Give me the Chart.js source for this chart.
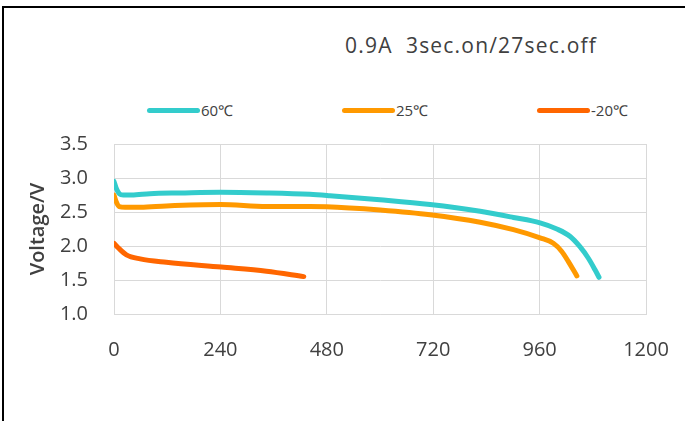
<!DOCTYPE html>
<html>
<head>
<meta charset="utf-8">
<script src="https://cdn.jsdelivr.net/npm/chart.js@4/dist/chart.umd.min.js"></script>
<style>
  body { margin: 0; background: #fff; overflow: hidden; }
  .wrap { position: relative; width: 685px; height: 421px; }
  .frame { position: absolute; left: 2px; top: 6px; width: 720px; height: 440px; border: 2px solid #000; }
  .chart-title { position: absolute; left: 345px; top: 31px; font: 21px "Open Sans", sans-serif; letter-spacing: 1.2px; color: #404040; white-space: nowrap; }
  .legend-item { position: absolute; top: 100px; font: 15px "Open Sans", sans-serif; color: #404040; white-space: nowrap; }
  .legend-item span { display: inline-block; width: 53px; height: 5px; border-radius: 3px; vertical-align: middle; margin-right: 1px; position: relative; top: -1px; }
  canvas { position: absolute; left: 0; top: 0; }
</style>
</head>
<body>
<div class="wrap">
  <div class="frame"></div>
  <div class="chart-title">0.9A&nbsp; 3sec.on/27sec.off</div>
  <div class="legend-item" style="left:147px"><span style="background:#33CCCC"></span>60℃</div>
  <div class="legend-item" style="left:342px"><span style="background:#FF9900"></span>25℃</div>
  <div class="legend-item" style="left:537px"><span style="background:#FF6600"></span>-20℃</div>
  <canvas id="myChart" width="685" height="421"></canvas>
</div>
<script>
// Data
const series_names = ["60℃", "25℃", "-20℃"];
const series_colors = ["#33CCCC", "#FF9900", "#FF6600"];

const time_60 = [0, 5, 12, 21, 40, 81, 150, 240, 344, 442, 487, 600, 713, 826, 901, 961, 999, 1029, 1051, 1070, 1085, 1094];
const volt_60 = [2.95, 2.85, 2.77, 2.75, 2.75, 2.77, 2.78, 2.79, 2.78, 2.76, 2.74, 2.68, 2.61, 2.51, 2.42, 2.34, 2.25, 2.14, 1.99, 1.82, 1.65, 1.54];

const time_25 = [0, 5, 12, 25, 60, 118, 240, 344, 442, 532, 600, 713, 826, 901, 961, 991, 1010, 1025, 1044];
const volt_25 = [2.75, 2.65, 2.58, 2.57, 2.57, 2.59, 2.61, 2.58, 2.58, 2.56, 2.53, 2.46, 2.35, 2.24, 2.12, 2.04, 1.92, 1.77, 1.56];

const time_m20 = [0, 10, 28, 59, 118, 242, 344, 428];
const volt_m20 = [2.04, 1.97, 1.87, 1.81, 1.76, 1.69, 1.63, 1.55];

const x_ticks = [0, 240, 480, 720, 960, 1200];
const y_ticks = [1.0, 1.5, 2.0, 2.5, 3.0, 3.5];

function toPoints(times, volts) {
  return times.map((t, i) => ({ x: t, y: volts[i] }));
}

const all_series = [
  toPoints(time_60, volt_60),
  toPoints(time_25, volt_25),
  toPoints(time_m20, volt_m20)
];

const ctx = document.getElementById("myChart").getContext("2d");
const tick_font = { family: "'Open Sans', sans-serif", size: 20 };

const myChart = new Chart(ctx, {
  type: "scatter",
  data: {
    datasets: all_series.map((pts, i) => ({
      label: series_names[i],
      data: pts,
      showLine: true,
      borderColor: series_colors[i],
      backgroundColor: series_colors[i],
      borderWidth: 5,
      pointRadius: 0,
      cubicInterpolationMode: "monotone",
      borderCapStyle: "round"
    }))
  },
  options: {
    responsive: false,
    animation: false,
    layout: { padding: { left: 0, right: 39, top: 144, bottom: 0 } },
    plugins: {
      legend: { display: false },
      title: { display: false },
      tooltip: { enabled: false }
    },
    scales: {
      x: {
        type: "linear",
        min: 0,
        max: 1200,
        afterBuildTicks: (scale) => {
          scale.ticks = x_ticks.map((v) => ({ value: v }));
        },
        afterFit: (scale) => {
          scale.height = 107;
          scale.paddingLeft = 0;
          scale.paddingRight = 0;
        },
        grid: { color: "#d9d9d9", drawTicks: false },
        border: { color: "#d9d9d9" },
        ticks: {
          font: tick_font,
          color: "#404040",
          padding: 24,
          maxRotation: 0,
          callback: (v) => String(v)
        }
      },
      y: {
        min: 1,
        max: 3.5,
        afterBuildTicks: (scale) => {
          scale.ticks = y_ticks.map((v) => ({ value: v }));
        },
        afterFit: (scale) => {
          scale.width = 114;
          scale.paddingTop = 0;
          scale.paddingBottom = 0;
        },
        grid: { color: "#d9d9d9", drawTicks: false },
        border: { color: "#d9d9d9" },
        ticks: {
          font: tick_font,
          color: "#404040",
          padding: 26,
          callback: (v) => Number(v).toFixed(1)
        },
        title: {
          display: true,
          text: "Voltage/V",
          font: { family: "'Open Sans', sans-serif", size: 20, weight: "600" },
          color: "#404040",
          padding: { top: 26, bottom: 0 }
        }
      }
    }
  }
});
</script>
</body>
</html>
